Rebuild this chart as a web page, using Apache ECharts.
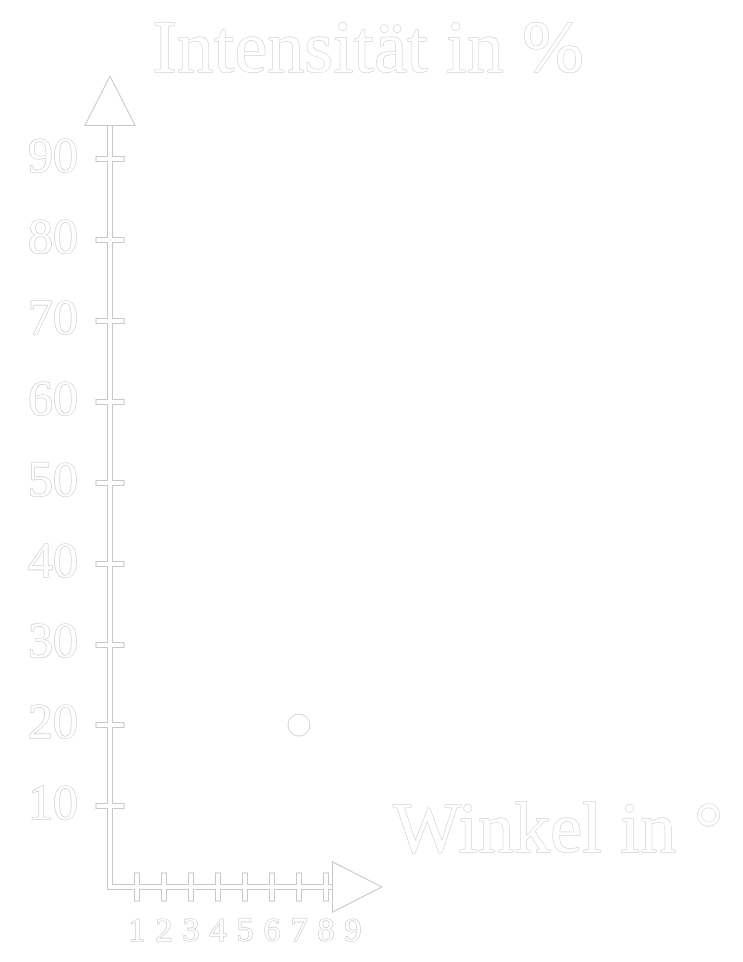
<!DOCTYPE html>
<html>
<head>
<meta charset="utf-8">
<title>Intensität</title>
<script src="https://cdn.jsdelivr.net/npm/echarts@6/dist/echarts.min.js"></script>
<style>
  html, body { margin: 0; padding: 0; background: #fff; }
  #main { width: 743px; height: 962px; }
</style>
</head>
<body>
<div id="main"></div>
<script>
// data
var xTicks = [1, 2, 3, 4, 5, 6, 7, 8];
var xLabels = ['1', '2', '3', '4', '5', '6', '7', '8', '9'];
var yLabels = ['10', '20', '30', '40', '50', '60', '70', '80', '90'];
var points = [[7, 20]];
var yTitle = 'Intensität in %';
var xTitle = 'Winkel in °';

var EDGE = '#c8c8c8';
var FILL = '#ffffff';
var FONT = '"Liberation Serif", "DejaVu Serif", serif';

var chart = echarts.init(document.getElementById('main'), null, { renderer: 'canvas' });

// axis line (outline = gray wide layer under white narrow layer)
function lineAxis(kind, grid, color, width, cap, arrowSize, arrowOffset, z) {
	return {
		type: 'value', gridIndex: grid, min: 0, max: 1, z: z,
		position: kind === 'x' ? 'bottom' : 'left',
		axisLine: {
			show: true, onZero: false,
			symbol: ['none', 'triangle'],
			symbolSize: arrowSize,
			symbolOffset: [0, arrowOffset],
			lineStyle: { color: color, width: width, cap: cap }
		},
		axisTick: { show: false },
		axisLabel: { show: false },
		splitLine: { show: false }
	};
}

function hiddenAxis(grid) {
	return { type: 'value', gridIndex: grid, show: false };
}

// crossing ticks
function tickAxis(kind, color, width, len, offset, z) {
	return {
		type: 'value', gridIndex: 1, z: z, offset: offset,
		position: kind === 'x' ? 'bottom' : 'left',
		interval: kind === 'x' ? 1 : 10,
		min: kind === 'x' ? xTicks[0] : +yLabels[0],
		max: kind === 'x' ? xTicks[xTicks.length - 1] : +yLabels[yLabels.length - 1],
		axisLine: { show: false, onZero: false },
		axisTick: { show: true, inside: true, length: len, lineStyle: { color: color, width: width } },
		axisLabel: { show: false },
		splitLine: { show: false }
	};
}

var labelText = {
	color: FILL,
	textBorderColor: EDGE,
	textBorderWidth: 1.2,
	fontFamily: FONT
};

var option = {
	backgroundColor: '#fff',
	animation: false,
	grid: [
		{ left: 110, right: 411, top: 126, bottom: 75 },
		{ left: 137, right: 417, top: 159, bottom: 156 },
		{ left: 137, right: 390, top: 126, bottom: 75 },
		{ left: 110, right: 411, top: 126, bottom: 73 },
		{ left: 108, right: 411, top: 126, bottom: 75 }
	],
	xAxis: [
		lineAxis('x', 0, EDGE, 6, 'square', [52, 51], 25.5, 1),
		lineAxis('x', 4, FILL, 4, 'butt', [48.7, 47.8], 24.9, 2),
		tickAxis('x', EDGE, 6, 29, 95.5, 1),
		tickAxis('x', FILL, 4, 27, 94.5, 2),
		{
			type: 'value', gridIndex: 2, position: 'bottom', min: 1, max: xLabels.length, interval: 1, z: 3,
			axisLine: { show: false, onZero: false },
			axisTick: { show: false },
			splitLine: { show: false },
			axisLabel: echarts.util.extend({
				show: true, margin: 28, fontSize: 34,
				formatter: function (v) { return xLabels[Math.round(v) - 1] || ''; }
			}, labelText)
		},
		hiddenAxis(3)
	],
	yAxis: [
		lineAxis('y', 0, EDGE, 6, 'square', [52, 51], 25.5, 1),
		lineAxis('y', 3, FILL, 4, 'butt', [48.7, 47.8], 24.9, 2),
		tickAxis('y', EDGE, 6, 29, 41.5, 1),
		tickAxis('y', FILL, 4, 27, 40.5, 2),
		{
			type: 'value', gridIndex: 1, position: 'left', offset: 27, min: 10, max: 90, interval: 10, z: 3,
			axisLine: { show: false, onZero: false },
			axisTick: { show: false },
			splitLine: { show: false },
			axisLabel: echarts.util.extend({
				show: true, margin: 32, fontSize: 50,
				formatter: function (v) { return yLabels[Math.round(v / 10) - 1] || ''; }
			}, labelText)
		},
		hiddenAxis(2),
		hiddenAxis(4)
	],
	graphic: [
		{
			type: 'text', x: 368, y: 53, z: 10,
			style: { text: yTitle, font: '74px ' + FONT, fill: FILL, stroke: EDGE, lineWidth: 1, textAlign: 'center', textVerticalAlign: 'middle' }
		},
		{
			type: 'text', x: 558, y: 833, z: 10,
			style: { text: xTitle, font: '72px ' + FONT, fill: FILL, stroke: EDGE, lineWidth: 1, textAlign: 'center', textVerticalAlign: 'middle' }
		}
	],
	series: [
		{
			type: 'scatter', xAxisIndex: 3, yAxisIndex: 3, z: 5,
			symbol: 'circle', symbolSize: 22,
			itemStyle: { color: FILL, borderColor: EDGE, borderWidth: 1 },
			data: points
		}
	]
};

chart.setOption(option);
</script>
</body>
</html>
